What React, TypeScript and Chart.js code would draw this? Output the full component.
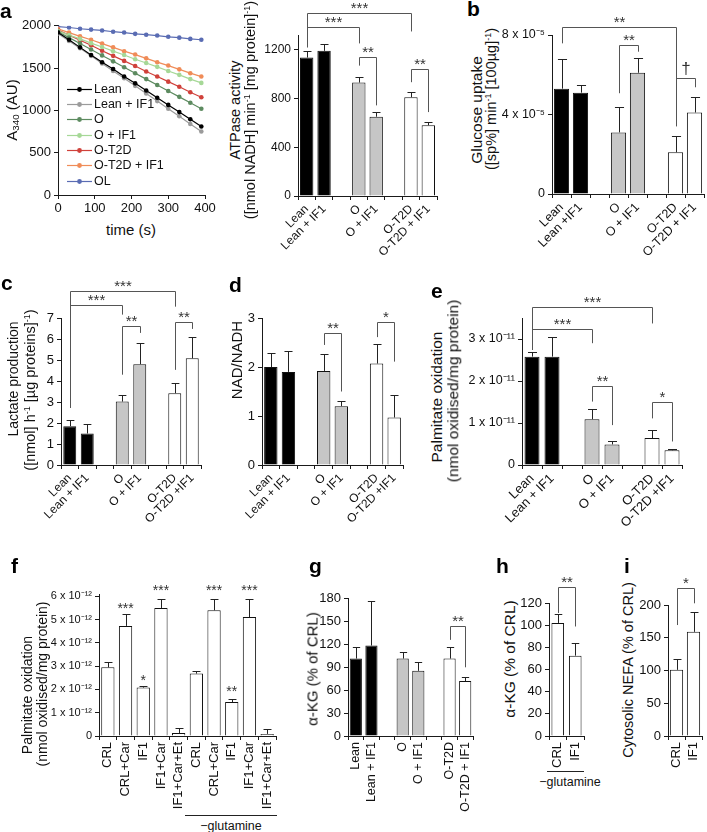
import React, { useEffect, useRef } from 'react';
import { Chart, registerables } from 'chart.js';

Chart.register(...registerables);

const FONT = '"Liberation Sans", Arial, Helvetica, sans-serif';
Chart.defaults.font.family = FONT;
const AXIS = '#1a1a1a';
const TXT = '#111111';

// ---------------- Panel a: kinetics ----------------
const timeS = [0, 30, 60, 90, 120, 150, 180, 210, 240, 270, 300, 330, 360, 390];
const kinLean = [1920, 1835, 1745, 1655, 1570, 1490, 1400, 1320, 1235, 1150, 1065, 980, 895, 810];
const kinLeanIF1 = [1910, 1820, 1735, 1645, 1555, 1465, 1380, 1290, 1200, 1110, 1020, 930, 840, 750];
const kinO = [1930, 1860, 1790, 1720, 1650, 1580, 1510, 1440, 1370, 1300, 1230, 1160, 1090, 1020];
const kinOIF1 = [1940, 1890, 1845, 1795, 1750, 1700, 1655, 1605, 1560, 1515, 1465, 1420, 1370, 1325];
const kinOT2D = [1950, 1890, 1830, 1770, 1705, 1645, 1585, 1525, 1460, 1400, 1340, 1280, 1215, 1155];
const kinOT2DIF1 = [1965, 1920, 1875, 1835, 1790, 1745, 1700, 1660, 1615, 1570, 1530, 1485, 1440, 1400];
const kinOL = [1990, 1980, 1965, 1955, 1945, 1930, 1920, 1905, 1895, 1885, 1870, 1860, 1845, 1835];
const kinNames = ['Lean', 'Lean + IF1', 'O', 'O + IF1', 'O-T2D', 'O-T2D + IF1', 'OL'];
const kinColors = ['#000000', '#9b9b9b', '#5d8b60', '#a6d897', '#d0413b', '#f08c58', '#5a6cb3'];
const kinXTicks = [0, 100, 200, 300, 400];
const kinYTicks = [0, 500, 1000, 1500, 2000];

// ---------------- Group bar panels ----------------
const labelsA = ['Lean', 'Lean + IF1', '', 'O', 'O + IF1', '', 'O-T2D', 'O-T2D + IF1'];
const labelsB = ['Lean', 'Lean +IF1', '', 'O', 'O + IF1', '', 'O-T2D', 'O-T2D + IF1'];
const labelsC = ['Lean', 'Lean + IF1', '', 'O', 'O + IF1', '', 'O-T2D', 'O-T2D +IF1'];
const groupColors = ['#000000', '#000000', '#ffffff', '#c6c6c6', '#c6c6c6', '#ffffff', '#ffffff', '#ffffff'];

const atpaseMean = [1135, 1190, null, 930, 650, null, 810, 580];
const atpaseSem = [50, 60, null, 45, 35, null, 40, 30];
const atpaseTicks = [0, 400, 800, 1200];
const atpaseSig = [
  [0, 6, 1504, 1219, 1349, '***'],
  [0, 3, 1388, 1219, 1251, '***'],
  [3, 4, 1137, 1069, 743, '**'],
  [6, 7, 1042, 933, 688, '**'],
];

const glucoseMean = [5.3e-5, 5.1e-5, null, 3.1e-5, 6.1e-5, null, 2.1e-5, 4.1e-5];
const glucoseSem = [1.5e-5, 0.4e-5, null, 1.3e-5, 0.75e-5, null, 0.8e-5, 0.8e-5];
const glucoseTicks = [0, 4e-5, 8e-5];
const glucoseSig = [
  [0, 6, 8.42e-5, 7.58e-5, 3.82e-5, '**'],
  [3, 4, 7.5e-5, 5.07e-5, 7.16e-5, '**'],
  [6, 7, 5.82e-5, 3.4e-5, 5.37e-5, '†'],
];

const lactateMean = [1.85, 1.5, null, 3.02, 4.8, null, 3.42, 5.08];
const lactateSem = [0.28, 0.45, null, 0.32, 1.0, null, 0.48, 1.02];
const lactateTicks = [0, 1, 2, 3, 4, 5, 6, 7];
const lactateSig = [
  [0, 6, 8.27, 2.72, 7.54, '***'],
  [0, 3, 7.64, 2.72, 7.16, '***'],
  [3, 4, 6.63, 4.3, 6.29, '**'],
  [6, 7, 6.79, 4.53, 6.48, '**'],
];

const nadMean = [2.0, 1.9, null, 1.92, 1.2, null, 2.07, 0.97];
const nadSem = [0.28, 0.42, null, 0.35, 0.1, null, 0.4, 0.46];
const nadTicks = [0, 1, 2, 3];
const nadSig = [
  [3, 4, 2.69, 2.45, 1.5, '**'],
  [6, 7, 2.92, 2.61, 2.11, '*'],
];

const palmMean = [2.58e-11, 2.58e-11, null, 1.09e-11, 0.49e-11, null, 0.64e-11, 0.35e-11];
const palmSem = [0.12e-11, 0.47e-11, null, 0.24e-11, 0.09e-11, null, 0.2e-11, 0.03e-11];
const palmTicks = [0, 1e-11, 2e-11, 3e-11];
const palmSig = [
  [0, 6, 3.76e-11, 2.74e-11, 3.37e-11, '***'],
  [0, 3, 3.24e-11, 2.74e-11, 2.9e-11, '***'],
  [3, 4, 1.89e-11, 1.51e-11, 0.95e-11, '**'],
  [6, 7, 1.49e-11, 1.11e-11, 0.56e-11, '*'],
];

// ---------------- Panel f ----------------
const fLabels = ['CRL', 'CRL+Car', 'IF1', 'IF1+Car', 'IF1+Car+Et', 'CRL', 'CRL+Car', 'IF1', 'IF1+Car', 'IF1+Car+Et'];
const fMean = [2.95e-12, 4.73e-12, 2.08e-12, 5.5e-12, 0.13e-12, 2.68e-12, 5.4e-12, 1.46e-12, 5.11e-12, 0.09e-12];
const fSem = [0.24e-12, 0.5e-12, 0.07e-12, 0.4e-12, 0.23e-12, 0.11e-12, 0.5e-12, 0.14e-12, 0.79e-12, 0.2e-12];
const fTicks = [0, 1e-12, 2e-12, 3e-12, 4e-12, 5e-12, 6e-12];
const fStars = [
  [1, 5.28e-12, '***'],
  [2, 2.2e-12, '*'],
  [3, 6.04e-12, '***'],
  [6, 6.04e-12, '***'],
  [7, 1.7e-12, '**'],
  [8, 6.04e-12, '***'],
];
const whiteColors = ['#ffffff', '#ffffff', '#ffffff', '#ffffff', '#ffffff', '#ffffff', '#ffffff', '#ffffff', '#ffffff', '#ffffff'];

// ---------------- Panel g ----------------
const akgMean = [101, 118, null, 101, 85, null, 101, 71.6];
const akgSem = [15, 58, null, 8, 11, null, 15, 5.7];
const akgTicks = [0, 30, 60, 90, 120, 150, 180];
const akgSig = [[6, 7, 143.7, 125.4, 89.6, '**']];

// ---------------- Panels h, i ----------------
const pairLabels = ['CRL', 'IF1'];
const akgGlnMean = [102, 72.5];
const akgGlnSem = [8, 11];
const akgGlnTicks = [0, 20, 40, 60, 80, 100, 120];
const akgGlnSig = [[0, 1, 134.5, 111, 98.8, '**']];

const nefaMean = [101, 159];
const nefaSem = [17, 31];
const nefaTicks = [0, 50, 100, 150, 200];
const nefaSig = [[0, 1, 225.6, 169.4, 202.6, '*']];

// ---------------- helpers ----------------
const SUP: Record<string, string> = { '-': '\u207B', '0': '\u2070', '1': '\u00B9', '2': '\u00B2', '3': '\u00B3', '4': '\u2074', '5': '\u2075', '6': '\u2076', '7': '\u2077', '8': '\u2078', '9': '\u2079' };
const toSup = (s: string) => s.split('').map((c) => SUP[c] || c).join('');
const sciFmt = (exp: number) => (v: number) =>
  v === 0 ? '0' : `${Math.round(v / Math.pow(10, exp))} x 10${toSup(String(exp))}`;
const plainFmt = (v: number) => String(v);

function makeErrorPlugin(errors: (number | null)[]) {
  return {
    id: 'errbars',
    afterDatasetsDraw(chart: any) {
      const meta = chart.getDatasetMeta(0);
      const ys = chart.scales.y;
      const vals = chart.data.datasets[0].data;
      const ctx = chart.ctx;
      ctx.save();
      ctx.strokeStyle = '#222';
      ctx.lineWidth = 1;
      meta.data.forEach((bar: any, i: number) => {
        const v = vals[i];
        const e = errors[i];
        if (v == null || e == null) return;
        const x = Math.round(bar.x) + 0.5;
        const y0 = ys.getPixelForValue(v);
        const y1 = Math.round(ys.getPixelForValue(v + e)) + 0.5;
        const cw = bar.width * 0.3;
        ctx.beginPath();
        ctx.moveTo(x, y0);
        ctx.lineTo(x, y1);
        ctx.moveTo(x - cw, y1);
        ctx.lineTo(x + cw, y1);
        ctx.stroke();
      });
      ctx.restore();
    },
  };
}

function makeBracketPlugin(items: any[], starSize: number) {
  return {
    id: 'sigbrackets',
    afterDatasetsDraw(chart: any) {
      const meta = chart.getDatasetMeta(0);
      const ys = chart.scales.y;
      const ctx = chart.ctx;
      ctx.save();
      ctx.strokeStyle = '#555';
      ctx.lineWidth = 1;
      ctx.fillStyle = '#333';
      ctx.textAlign = 'center';
      ctx.textBaseline = 'alphabetic';
      for (const [i, j, lvl, le, re, lab] of items) {
        const x1 = Math.round(meta.data[i].x) + 0.5;
        const x2 = Math.round(meta.data[j].x) + 0.5;
        const y = Math.round(ys.getPixelForValue(lvl)) + 0.5;
        ctx.beginPath();
        ctx.moveTo(x1, ys.getPixelForValue(le));
        ctx.lineTo(x1, y);
        ctx.lineTo(x2, y);
        ctx.lineTo(x2, ys.getPixelForValue(re));
        ctx.stroke();
        const dag = lab === '†';
        ctx.font = `${dag ? 17 : starSize}px ${FONT}`;
        ctx.fillText(lab, (x1 + x2) / 2, y - (dag ? 5 : 1));
      }
      ctx.restore();
    },
  };
}

function makeStarPlugin(items: any[], starSize: number) {
  return {
    id: 'sigstars',
    afterDatasetsDraw(chart: any) {
      const meta = chart.getDatasetMeta(0);
      const ys = chart.scales.y;
      const ctx = chart.ctx;
      ctx.save();
      ctx.fillStyle = '#333';
      ctx.textAlign = 'center';
      ctx.textBaseline = 'alphabetic';
      ctx.font = `${starSize}px ${FONT}`;
      for (const [i, v, lab] of items) {
        ctx.fillText(lab, meta.data[i].x, ys.getPixelForValue(v));
      }
      ctx.restore();
    },
  };
}

function makeLegendPlugin() {
  return {
    id: 'inlegend',
    afterDraw(chart: any) {
      const { ctx, chartArea } = chart;
      const x0 = chartArea.left + 9;
      const y0 = chartArea.top + 63;
      const dy = 15.3;
      ctx.save();
      ctx.font = `12.5px ${FONT}`;
      ctx.textBaseline = 'middle';
      ctx.textAlign = 'left';
      chart.data.datasets.forEach((ds: any, i: number) => {
        const y = Math.round(y0 + i * dy) + 0.5;
        ctx.strokeStyle = ds.borderColor;
        ctx.lineWidth = 1.2;
        ctx.beginPath();
        ctx.moveTo(x0, y);
        ctx.lineTo(x0 + 25, y);
        ctx.stroke();
        ctx.fillStyle = ds.borderColor;
        ctx.beginPath();
        ctx.arc(x0 + 12.5, y, 2.4, 0, Math.PI * 2);
        ctx.fill();
        ctx.fillStyle = TXT;
        ctx.fillText(ds.label, x0 + 27, y + 0.5);
      });
      ctx.restore();
    },
  };
}

type BarPanel = {
  labels: string[];
  values: (number | null)[];
  errors: (number | null)[];
  colors: string[];
  ticks: number[];
  yMax: number;
  fmt: (v: number) => string;
  rot: number;
  xFont: number;
  yFont: number;
  barPct: number;
  plot: number[]; // l,t,r,b
  m: number[]; // L,T,R,B
  brackets?: any[];
  stars?: any[];
  starSize?: number;
};

function canvasRect(plot: number[], m: number[]) {
  const [l, t, r, b] = plot;
  const [L, T, R, B] = m;
  return { x: l - L, y: t - T, w: r - l + L + R, h: b - t + T + B };
}

function axisGrid() {
  return { display: true, drawOnChartArea: false, drawTicks: true, tickLength: 4, color: AXIS, lineWidth: 1 };
}

function barConfig(p: BarPanel): any {
  const [L, T, R, B] = p.m;
  const plugins: any[] = [makeErrorPlugin(p.errors)];
  if (p.brackets) plugins.push(makeBracketPlugin(p.brackets, p.starSize || 15));
  if (p.stars) plugins.push(makeStarPlugin(p.stars, p.starSize || 15));
  return {
    type: 'bar',
    data: {
      labels: p.labels,
      datasets: [
        {
          data: p.values,
          backgroundColor: p.colors,
          borderColor: '#111',
          borderWidth: 1,
          barPercentage: p.barPct,
          categoryPercentage: 1,
        },
      ],
    },
    options: {
      animation: false,
      responsive: false,
      events: [],
      layout: { padding: { top: T, right: R, left: 0, bottom: 0 } },
      plugins: { legend: { display: false }, tooltip: { enabled: false } },
      scales: {
        x: {
          type: 'category',
          offset: true,
          grid: { ...axisGrid(), offset: true },
          border: { display: true, color: AXIS, width: 1 },
          ticks: {
            autoSkip: false,
            minRotation: p.rot,
            maxRotation: p.rot,
            padding: 2,
            color: TXT,
            font: { family: FONT, size: p.xFont },
          },
          afterFit: (s: any) => {
            s.height = B;
          },
        },
        y: {
          type: 'linear',
          min: 0,
          max: p.yMax,
          grid: axisGrid(),
          border: { display: true, color: AXIS, width: 1 },
          ticks: {
            padding: 3,
            color: TXT,
            font: { family: FONT, size: p.yFont },
            callback: (v: any) => p.fmt(Number(v)),
          },
          afterBuildTicks: (s: any) => {
            s.ticks = p.ticks.map((v) => ({ value: v }));
          },
          afterFit: (s: any) => {
            s.width = L;
          },
        },
      },
    },
    plugins,
  };
}

const kinPlot = [58, 25, 205, 195];
const kinM = [48, 10, 20, 25];

function kineticsConfig(): any {
  const series = [kinLean, kinLeanIF1, kinO, kinOIF1, kinOT2D, kinOT2DIF1, kinOL];
  const [L, T, R, B] = kinM;
  return {
    type: 'line',
    data: {
      datasets: series.map((s, i) => ({
        label: kinNames[i],
        data: timeS.map((t, j) => ({ x: t, y: s[j] })),
        borderColor: kinColors[i],
        backgroundColor: kinColors[i],
        pointBackgroundColor: kinColors[i],
        borderWidth: 1.2,
        pointRadius: 2.3,
        pointBorderWidth: 0,
        tension: 0,
      })),
    },
    options: {
      animation: false,
      responsive: false,
      events: [],
      layout: { padding: { top: T, right: R, left: 0, bottom: 0 } },
      plugins: { legend: { display: false }, tooltip: { enabled: false } },
      scales: {
        x: {
          type: 'linear',
          min: 0,
          max: 400,
          grid: axisGrid(),
          border: { display: true, color: AXIS, width: 1 },
          ticks: { maxRotation: 0, padding: 2, color: TXT, font: { family: FONT, size: 13 }, callback: (v: any) => String(v) },
          afterBuildTicks: (s: any) => {
            s.ticks = kinXTicks.map((v) => ({ value: v }));
          },
          afterFit: (s: any) => {
            s.height = B;
          },
        },
        y: {
          type: 'linear',
          min: 0,
          max: 2000,
          grid: axisGrid(),
          border: { display: true, color: AXIS, width: 1 },
          ticks: { padding: 3, color: TXT, font: { family: FONT, size: 13 }, callback: (v: any) => String(v) },
          afterBuildTicks: (s: any) => {
            s.ticks = kinYTicks.map((v) => ({ value: v }));
          },
          afterFit: (s: any) => {
            s.width = L;
          },
        },
      },
    },
    plugins: [makeLegendPlugin()],
  };
}

const panels: BarPanel[] = [
  {
    labels: labelsA, values: atpaseMean, errors: atpaseSem, colors: groupColors, ticks: atpaseTicks,
    yMax: 1320, fmt: plainFmt, rot: 45, xFont: 12, yFont: 12, barPct: 0.77,
    plot: [298, 35, 437, 196], m: [45, 35, 15, 62], brackets: atpaseSig, starSize: 15,
  },
  {
    labels: labelsB, values: glucoseMean, errors: glucoseSem, colors: groupColors, ticks: glucoseTicks,
    yMax: 8e-5, fmt: sciFmt(-5), rot: 45, xFont: 12.5, yFont: 12.5, barPct: 0.8,
    plot: [552, 35, 704, 194], m: [52, 35, 15, 65], brackets: glucoseSig, starSize: 15,
  },
  {
    labels: labelsC, values: lactateMean, errors: lactateSem, colors: groupColors, ticks: lactateTicks,
    yMax: 7, fmt: plainFmt, rot: 45, xFont: 12, yFont: 13, barPct: 0.74,
    plot: [61, 318, 201, 465], m: [40, 48, 15, 62], brackets: lactateSig, starSize: 15,
  },
  {
    labels: labelsC, values: nadMean, errors: nadSem, colors: groupColors, ticks: nadTicks,
    yMax: 3, fmt: plainFmt, rot: 45, xFont: 12, yFont: 13, barPct: 0.76,
    plot: [262, 318, 403, 465], m: [40, 30, 15, 62], brackets: nadSig, starSize: 15,
  },
  {
    labels: labelsC, values: palmMean, errors: palmSem, colors: groupColors, ticks: palmTicks,
    yMax: 3.5e-11, fmt: sciFmt(-11), rot: 45, xFont: 13, yFont: 12.5, barPct: 0.75,
    plot: [522, 318, 682, 465], m: [64, 33, 15, 68], brackets: palmSig, starSize: 15,
  },
  {
    labels: fLabels, values: fMean, errors: fSem, colors: whiteColors, ticks: fTicks,
    yMax: 6.1e-12, fmt: sciFmt(-12), rot: 90, xFont: 13, yFont: 11, barPct: 0.75,
    plot: [99, 594, 276, 736], m: [54, 24, 15, 78], stars: fStars, starSize: 14,
  },
  {
    labels: labelsA, values: akgMean, errors: akgSem, colors: groupColors, ticks: akgTicks,
    yMax: 180, fmt: plainFmt, rot: 90, xFont: 12.5, yFont: 13, barPct: 0.78,
    plot: [348, 598, 473, 736], m: [30, 28, 15, 78], brackets: akgSig, starSize: 15,
  },
  {
    labels: pairLabels, values: akgGlnMean, errors: akgGlnSem, colors: ['#ffffff', '#ffffff'], ticks: akgGlnTicks,
    yMax: 120, fmt: plainFmt, rot: 90, xFont: 13, yFont: 13, barPct: 0.72,
    plot: [549, 603, 584, 736], m: [30, 33, 15, 34], brackets: akgGlnSig, starSize: 15,
  },
  {
    labels: pairLabels, values: nefaMean, errors: nefaSem, colors: ['#ffffff', '#ffffff'], ticks: nefaTicks,
    yMax: 200, fmt: plainFmt, rot: 90, xFont: 13, yFont: 13, barPct: 0.78,
    plot: [668, 605, 702, 736], m: [31, 35, 15, 34], brackets: nefaSig, starSize: 15,
  },
];

function ChartCanvas({ plot, m, make }: { plot: number[]; m: number[]; make: () => any }) {
  const ref = useRef<HTMLCanvasElement>(null);
  const r = canvasRect(plot, m);
  useEffect(() => {
    const c = new Chart(ref.current as HTMLCanvasElement, make());
    return () => c.destroy();
  }, []);
  return (
    <canvas
      ref={ref}
      width={r.w}
      height={r.h}
      style={{ position: 'absolute', left: r.x, top: r.y, width: r.w, height: r.h }}
    />
  );
}

function VText({ x, y, size, children }: { x: number; y: number; size: number; children: any }) {
  return (
    <div
      style={{
        position: 'absolute',
        left: x,
        top: y,
        transform: 'translate(-50%, -50%) rotate(-90deg)',
        whiteSpace: 'nowrap',
        fontSize: size,
        lineHeight: 1,
        fontFamily: FONT,
        color: TXT,
      }}
    >
      {children}
    </div>
  );
}

function HText({ x, y, size, children }: { x: number; y: number; size: number; children: any }) {
  return (
    <div
      style={{
        position: 'absolute',
        left: x,
        top: y,
        transform: 'translate(-50%, -50%)',
        whiteSpace: 'nowrap',
        fontSize: size,
        lineHeight: 1,
        fontFamily: FONT,
        color: TXT,
      }}
    >
      {children}
    </div>
  );
}

const Sup = ({ children }: { children: any }) => (
  <sup style={{ fontSize: '0.62em', verticalAlign: '0.55em', lineHeight: 0 }}>{children}</sup>
);

function Letter({ ch, x, base }: { ch: string; x: number; base: number }) {
  return (
    <div
      style={{
        position: 'absolute',
        left: x,
        top: base - 17.8,
        fontSize: 21,
        lineHeight: '21px',
        fontWeight: 'bold',
        fontFamily: FONT,
        color: '#000',
      }}
    >
      {ch}
    </div>
  );
}

function HLine({ x1, x2, y }: { x1: number; x2: number; y: number }) {
  return <div style={{ position: 'absolute', left: x1, top: y, width: x2 - x1, height: 0, borderTop: '1px solid #222' }} />;
}

export default function App() {
  return (
    <div
      style={{
        position: 'absolute',
        left: 0,
        top: 0,
        width: 707,
        height: 832,
        overflow: 'hidden',
        background: '#ffffff',
        fontFamily: FONT,
      }}
    >
      <ChartCanvas plot={kinPlot} m={kinM} make={kineticsConfig} />
      {panels.map((p, i) => (
        <ChartCanvas key={i} plot={p.plot} m={p.m} make={() => barConfig(p)} />
      ))}

      {/* panel letters */}
      <Letter ch="a" x={0} base={18} />
      <Letter ch="b" x={467} base={16} />
      <Letter ch="c" x={1} base={290} />
      <Letter ch="d" x={229} base={292} />
      <Letter ch="e" x={431} base={298} />
      <Letter ch="f" x={11} base={573} />
      <Letter ch="g" x={309} base={573} />
      <Letter ch="h" x={496} base={573} />
      <Letter ch="i" x={624} base={573} />

      {/* axis titles */}
      <VText x={11} y={110} size={15}>
        A<sub style={{ fontSize: '0.65em', verticalAlign: '-0.3em', lineHeight: 0 }}>340</sub> (AU)
      </VText>
      <HText x={131} y={229} size={15}>time (s)</HText>

      <VText x={235} y={110} size={14.5}>ATPase activity</VText>
      <VText x={250} y={110} size={14.5}>
        ([nmol NADH] min<Sup>-1</Sup> [mg protein]<Sup>-1</Sup>)
      </VText>

      <VText x={477} y={110} size={15.5}>Glucose uptake</VText>
      <VText x={491} y={99} size={14.5}>
        ([sp%] min<Sup>-1</Sup> [100µg]<Sup>-1</Sup>)
      </VText>

      <VText x={13} y={379} size={14}>Lactate production</VText>
      <VText x={30} y={390} size={14.5}>
        ([nmol] h<Sup>-1</Sup> [µg proteins]<Sup>-1</Sup>)
      </VText>

      <VText x={236} y={360} size={15}>NAD/NADH</VText>

      <VText x={437} y={397} size={15.5}>Palmitate oxidation</VText>
      <VText x={453} y={391} size={15.5}>(nmol oxidised/mg protein)</VText>

      <VText x={27} y={695} size={14}>Palmitate oxidation</VText>
      <VText x={42} y={684} size={14}>(nmol oxidised/mg protein)</VText>

      <VText x={312} y={669} size={15}>α-KG (% of CRL)</VText>
      <VText x={510} y={659} size={15.5}>α-KG (% of CRL)</VText>
      <VText x={628} y={670} size={14.5}>Cytosolic NEFA (% of CRL)</VText>

      {/* -glutamine annotations */}
      <HLine x1={185} x2={277} y={815} />
      <HText x={231} y={826} size={12.5}>−glutamine</HText>
      <HLine x1={547} x2={584} y={771} />
      <HText x={570} y={782} size={12.5}>−glutamine</HText>
    </div>
  );
}
